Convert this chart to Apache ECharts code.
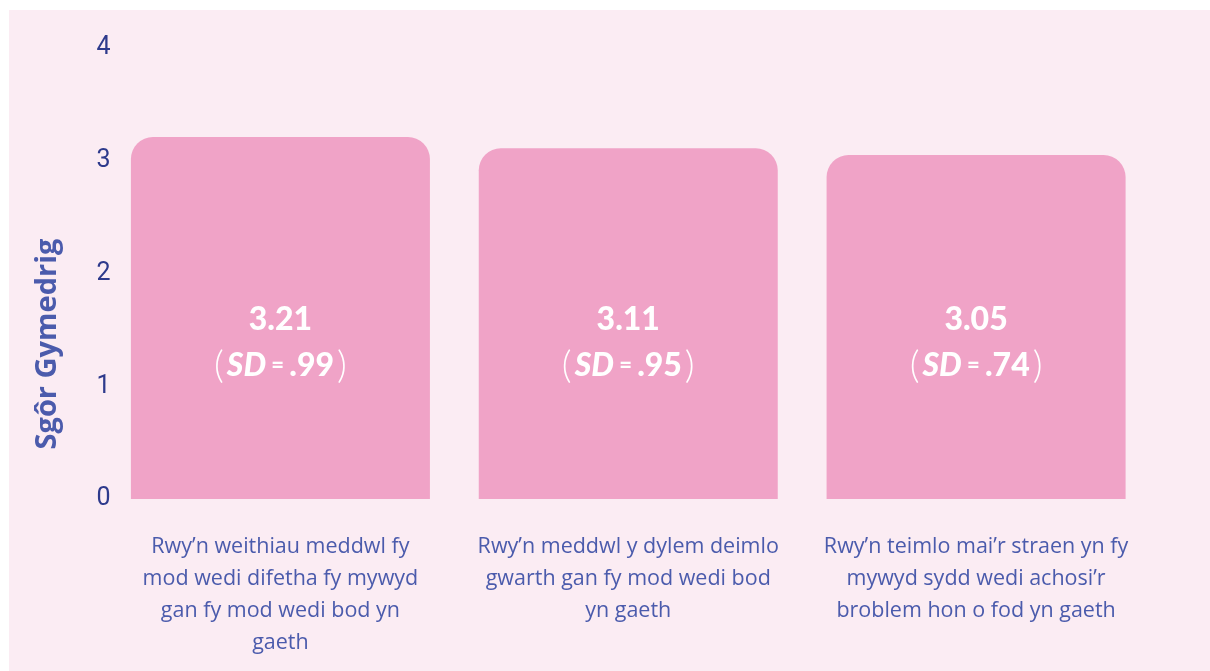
<!DOCTYPE html>
<html>
<head>
<meta charset="utf-8">
<script src="https://cdn.jsdelivr.net/npm/echarts@6/dist/echarts.min.js"></script>
<style>
    html, body { margin: 0; padding: 0; background: #fff; }
</style>
</head>
<body>
<div id="main" style="width: 1210px; height: 671px;"></div>

<script type="text/javascript">
    // data
    var categories = [
        "Rwy\u2019n weithiau meddwl fy\nmod wedi difetha fy mywyd\ngan fy mod wedi bod yn\ngaeth",
        "Rwy\u2019n meddwl y dylem deimlo\ngwarth gan fy mod wedi bod\nyn gaeth",
        "Rwy\u2019n teimlo mai\u2019r straen yn fy\nmywyd sydd wedi achosi\u2019r\nbroblem hon o fod yn gaeth"
    ];
    var means = [3.21, 3.11, 3.05];
    var sds = [".99", ".95", ".74"];

    var myChart = echarts.init(document.getElementById('main'));

    var option = {
        backgroundColor: '#ffffff',
        graphic: [
            {
                type: 'rect',
                z: -10,
                shape: { x: 9, y: 10, width: 1201, height: 661 },
                style: { fill: '#fbecf3' }
            },
            {
                type: 'text',
                x: 48,
                y: 344,
                rotation: Math.PI / 2,
                style: {
                    text: 'Sgôr Gymedrig',
                    fill: '#4b5bac',
                    font: 'bold 29px "Open Sans"',
                    align: 'center',
                    verticalAlign: 'middle'
                }
            }
        ],
        grid: {
            left: 106.5,
            right: 60,
            top: 48,
            bottom: 172
        },
        xAxis: {
            type: 'category',
            data: categories,
            axisLine: { show: false },
            axisTick: { show: false },
            axisLabel: {
                interval: 0,
                margin: 32,
                color: '#4b5bac',
                fontFamily: 'Open Sans',
                fontSize: 21.5,
                lineHeight: 32
            }
        },
        yAxis: {
            type: 'value',
            min: 0,
            max: 4,
            interval: 1,
            splitLine: { show: false },
            axisLine: { show: false },
            axisTick: { show: false },
            axisLabel: {
                margin: -4,
                color: '#2e3a8c',
                fontFamily: 'Roboto',
                fontSize: 25,
                padding: [10, 0, 0, 0]
            }
        },
        series: [
            {
                type: 'bar',
                data: means,
                barWidth: 299,
                itemStyle: {
                    color: '#f0a3c7',
                    borderRadius: [22, 22, 0, 0]
                },
                label: {
                    show: true,
                    position: 'insideBottom',
                    distance: 110,
                    formatter: function (p) {
                        return '{num|' + p.value.toFixed(2) + '}\n{par|(}{sd|SD}{eq| = }{num|' + sds[p.dataIndex] + '}{par|)}';
                    },
                    rich: {
                        num: { color: '#fff', fontFamily: 'Lato', fontWeight: 900, fontSize: 32, lineHeight: 46 },
                        sd: { color: '#fff', fontFamily: 'Lato', fontWeight: 900, fontStyle: 'italic', fontSize: 32, lineHeight: 46 },
                        eq: { color: '#fff', fontFamily: 'Lato', fontWeight: 900, fontSize: 22, lineHeight: 46 },
                        par: { color: '#fff', fontFamily: 'Lato', fontWeight: 300, fontSize: 38, lineHeight: 46, padding: [0, 3, 0, 3] }
                    }
                }
            }
        ]
    };

    myChart.setOption(option);
</script>
</body>
</html>
